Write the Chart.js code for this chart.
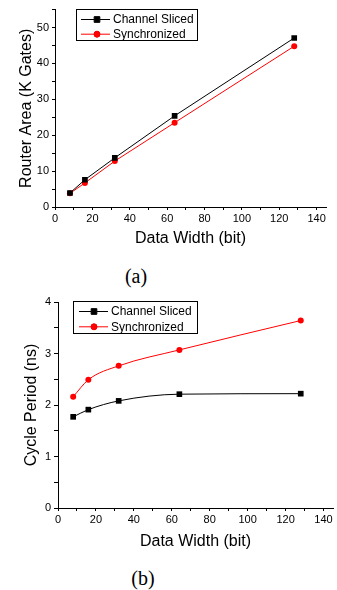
<!DOCTYPE html>
<html>
<head>
<meta charset="utf-8">
<script src="https://cdn.jsdelivr.net/npm/chart.js@4"></script>
<style>
  html, body { margin: 0; padding: 0; background: #fff; }
  body { width: 337px; height: 590px; position: relative; overflow: hidden; }
  canvas { position: absolute; left: 0; }
  #chartA { top: 0; }
  #chartB { top: 290px; }
  .caption { position: absolute; font: 20px "Liberation Serif", serif; line-height: 20px; text-align: center; width: 60px; color: #000; }
</style>
</head>
<body>
<canvas id="chartA" width="337" height="250"></canvas>
<div class="caption" style="left:106px; top:266px;">(a)</div>
<canvas id="chartB" width="337" height="265"></canvas>
<div class="caption" style="left:113px; top:568px;">(b)</div>
<script>
// data
const dataWidths = [8, 16, 32, 64, 128];
const seriesNames = ['Channel Sliced', 'Synchronized'];
const areaSliced = [3.9, 7.6, 13.7, 25.4, 47.1];
const areaSync = [3.8, 6.7, 12.8, 23.5, 44.8];
const periodSliced = [1.77, 1.91, 2.08, 2.21, 2.22];
const periodSync = [2.16, 2.49, 2.76, 3.07, 3.64];

const font = '"Liberation Sans", Arial, sans-serif';

// legend box with line + marker samples, drawn inside the plot
const boxLegend = {
    id: 'boxLegend',
    afterDatasetsDraw(chart, args, o) {
        const { ctx, chartArea } = chart;
        const x = Math.round(chartArea.left + o.x), y = Math.round(chartArea.top + o.y);
        ctx.save();
        ctx.fillStyle = '#fff';
        ctx.fillRect(x, y, o.w, o.h);
        ctx.strokeStyle = '#000';
        ctx.lineWidth = 1;
        ctx.strokeRect(x + 0.5, y + 0.5, o.w, o.h);
        chart.data.datasets.forEach((ds, i) => {
            const cy = y + o.row0 + i * o.rowGap;
            ctx.strokeStyle = ds.borderColor;
            ctx.beginPath();
            ctx.moveTo(x + o.line0, cy + 0.5);
            ctx.lineTo(x + o.line1, cy + 0.5);
            ctx.stroke();
            Chart.helpers.drawPoint(ctx, {
                pointStyle: ds.pointStyle, radius: ds.pointRadius, borderWidth: 1
            }, x + o.mark, cy + 0.5);
            ctx.fillStyle = ds.borderColor;
            ctx.fill();
            ctx.fillStyle = '#000';
            ctx.font = '12px ' + font;
            ctx.textBaseline = 'middle';
            ctx.fillText(ds.label, x + o.text, cy + 1);
        });
        ctx.restore();
    }
};

function makeSet(label, ys, color, style, radius, smooth) {
    return {
        label: label,
        data: dataWidths.map((x, i) => ({ x: x, y: ys[i] })),
        borderColor: color,
        backgroundColor: color,
        borderWidth: 1,
        pointStyle: style,
        pointRadius: radius,
        pointBorderWidth: 0,
        pointBackgroundColor: color,
        tension: smooth ? 0.4 : 0,
        cubicInterpolationMode: smooth ? 'monotone' : 'default'
    };
}

function axis(o) {
    return {
        type: 'linear',
        min: 0,
        max: o.max,
        border: { display: true, color: '#000', width: 1 },
        grid: { drawOnChartArea: false, tickLength: o.tickLength, color: '#000' },
        ticks: {
            stepSize: o.step,
            includeBounds: false,
            padding: o.pad,
            color: '#000',
            font: { family: font, size: 11 },
            maxRotation: 0,
            autoSkip: false,
            callback: o.label
        },
        afterFit: o.fit,
        title: {
            display: true,
            text: o.title,
            color: '#000',
            font: { family: font, size: 16 },
            padding: o.titlePad
        }
    };
}

function makeChart(id, sets, o) {
    new Chart(document.getElementById(id), {
        type: 'line',
        data: { datasets: sets },
        options: {
            responsive: false,
            animation: false,
            layout: { padding: o.padding },
            plugins: {
                legend: { display: false },
                tooltip: { enabled: false },
                boxLegend: o.legend
            },
            scales: {
                x: axis({
                    max: 145, step: 10, tickLength: 3, pad: 2,
                    label: v => (v % 20 === 0 ? v : ''),
                    fit: s => { s.height = o.xHeight; },
                    title: 'Data Width (bit)',
                    titlePad: { top: 0, bottom: o.xTitlePad }
                }),
                y: axis({
                    max: o.yMax, step: o.yStep, tickLength: o.yTick, pad: 3,
                    label: o.yLabel,
                    fit: s => { s.width = o.yWidth; },
                    title: o.yTitle,
                    titlePad: { top: o.yTitlePad, bottom: 0 }
                })
            }
        },
        plugins: [boxLegend]
    });
}

makeChart('chartA', [
    makeSet(seriesNames[0], areaSliced, '#000000', 'rect', 4, false),
    makeSet(seriesNames[1], areaSync, '#ff0000', 'circle', 3, false)
], {
    padding: { top: 5, right: 11, left: 0, bottom: 0 },
    xHeight: 43, xTitlePad: 2,
    yMax: 55, yStep: 5, yTick: 3, yWidth: 55,
    yLabel: v => (v % 10 === 0 ? v : ''),
    yTitle: 'Router Area (K Gates)', yTitlePad: 17,
    legend: { x: 21, y: -1, w: 121, h: 31, row0: 10, rowGap: 14.7, line0: 5, line1: 34, mark: 21, text: 37 }
});

makeChart('chartB', [
    makeSet(seriesNames[0], periodSliced, '#000000', 'rect', 4, true),
    makeSet(seriesNames[1], periodSync, '#ff0000', 'circle', 3, true)
], {
    padding: { top: 12, right: 2, left: 0, bottom: 0 },
    xHeight: 47, xTitlePad: 4,
    yMax: 4, yStep: 0.5, yTick: 4, yWidth: 58,
    yLabel: v => (Number.isInteger(v) ? v : ''),
    yTitle: 'Cycle Period (ns)', yTitlePad: 22,
    legend: { x: 15, y: -1, w: 124, h: 32, row0: 10, rowGap: 15.3, line0: 6, line1: 35, mark: 21, text: 38 }
});
</script>
</body>
</html>
